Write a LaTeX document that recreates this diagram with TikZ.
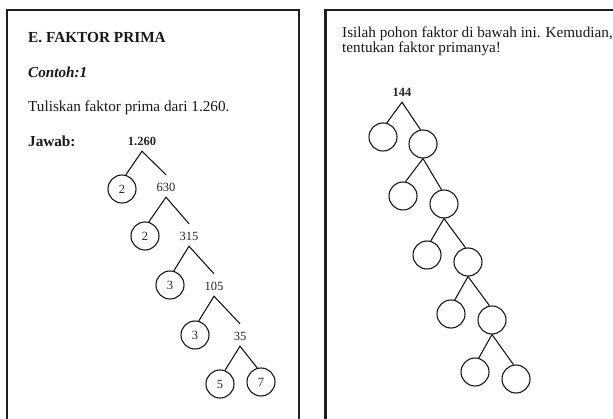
\documentclass[tikz,border=0pt]{standalone}
\usepackage{fontspec}
\setmainfont{Liberation Serif}
\begin{document}
\begin{tikzpicture}[x=1pt,y=-1pt,
  frame/.style={line width=2.3pt,draw=black!88},
  body/.style={anchor=base west,inner sep=0pt,text=black!90,font=\fontsize{15.2}{16}\selectfont},
  num/.style={anchor=base,inner sep=0pt,text height=17pt,text depth=5pt,text=black!85,font=\fontsize{12.5}{13}\selectfont},
  bnum/.style={num,font=\fontsize{12.5}{13}\selectfont\bfseries},
  factor/.style={circle,draw=black!90,line width=1.1pt,minimum size=28pt,inner sep=0pt,text=black!85,font=\fontsize{12.5}{13}\selectfont},
  branch/.style={line width=1.1pt,draw=black!90}]
\useasboundingbox (0,0) rectangle (613,419);
\fill[white] (0,0) rectangle (613,419);

% page frames, running off the bottom and right edge
\draw[frame] (7,425) -- (7,10) -- (299,10) -- (299,425);
\draw[frame] (325.5,425) -- (325.5,10) -- (620,10);

% left page: worked example
\node[body,font=\fontsize{15.3}{16}\selectfont\bfseries] (title) at (28,43) {E. FAKTOR PRIMA};
\node[body,font=\fontsize{15.2}{16}\selectfont\bfseries\itshape] (ex) at (28,78) {Contoh:1};
\node[body] (task) at (28,112) {Tuliskan faktor prima dari 1.260.};
\node[body,font=\fontsize{15.2}{16}\selectfont\bfseries] (ans) at (28,147) {Jawab:};

\node[bnum] (a0) at (142,146) {1.260};
\node[factor] (p1) at (122,189) {2};
\node[num] (a1) at (166,192) {630};
\node[factor] (p2) at (145,236) {2};
\node[num] (a2) at (189,241) {315};
\node[factor] (p3) at (170,285) {3};
\node[num] (a3) at (214,291) {105};
\node[factor] (p4) at (195,335) {3};
\node[num] (a4) at (240,341) {35};
\node[factor] (p5) at (220,384) {5};
\node[factor] (p6) at (261,382) {7};

\draw[branch] (p1.75) -- (a0.south) -- (a1.north);
\draw[branch] (p2.75) -- (a1.south) -- (a2.north);
\draw[branch] (p3.75) -- (a2.south) -- (a3.north);
\draw[branch] (p4.75) -- (a3.south) -- (a4.north);
\draw[branch] (p5.70) -- (a4.south) -- (p6.105);

% right page: exercise
\node[body] (q1) at (342,38) {Isilah pohon faktor di bawah ini. Kemudian,};
\node[body] (q2) at (342,53) {tentukan faktor primanya!};

\node[bnum] (r0) at (402,97) {144};
\node[factor] (l1) at (383,137) {};
\node[factor] (r1) at (423,144) {};
\node[factor] (l2) at (403,196) {};
\node[factor] (r2) at (444,204) {};
\node[factor] (l3) at (427,255) {};
\node[factor] (r3) at (468,262) {};
\node[factor] (l4) at (451,314) {};
\node[factor] (r4) at (492,320) {};
\node[factor] (l5) at (475,372) {};
\node[factor] (r5) at (516,379) {};

\draw[branch] (l1.75) -- (r0.south) -- (r1.100);
\draw[branch] (l2.80) -- (r1.south) -- (r2.100);
\draw[branch] (l3.75) -- (r2.south) -- (r3.100);
\draw[branch] (l4.75) -- (r3.south) -- (r4.100);
\draw[branch] (l5.75) -- (r4.south) -- (r5.100);
\end{tikzpicture}
\end{document}
